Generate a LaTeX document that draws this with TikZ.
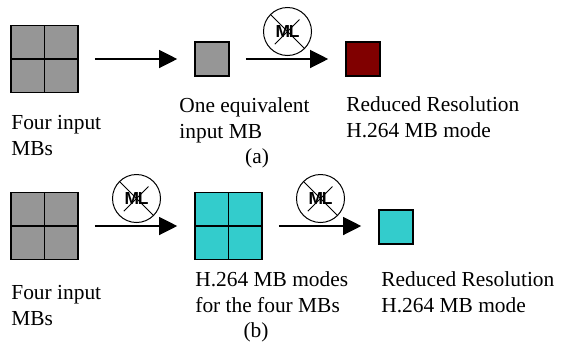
\documentclass[tikz,border=0pt]{standalone}
\usepackage{fontspec}
\setmainfont{Liberation Serif}
\newfontfamily\mlfont{Liberation Sans}
\usetikzlibrary{arrows.meta}
\definecolor{mbgray}{RGB}{150,150,150}
\definecolor{mbred}{RGB}{128,0,0}
\definecolor{mbcyan}{RGB}{51,204,204}

\begin{document}
\begin{tikzpicture}[x=0.5pt,y=-0.5pt,>={Triangle[length=9pt,width=9pt]},
 font=\fontsize{10.7}{13}\selectfont,
 quad/.style={draw,line width=0.8pt,minimum size=33.5pt,inner sep=0pt,
  path picture={\draw[-,line width=0.7pt]
   (path picture bounding box.north)--(path picture bounding box.south)
   (path picture bounding box.west)--(path picture bounding box.east);}},
 mb/.style={draw,line width=0.8pt,minimum size=17pt,inner sep=0pt},
 flow/.style={->,line width=0.6pt,shorten <=8pt,shorten >=8.5pt},
 ml/.style={circle,draw,line width=0.5pt,minimum size=24pt,inner sep=0pt,
  font=\mlfont\bfseries\fontsize{8.7}{8.7}\selectfont,
  path picture={\draw[-,line width=0.5pt]
   (path picture bounding box.north west)--(path picture bounding box.south east)
   (path picture bounding box.south west)--(path picture bounding box.north east);}},
 lbl/.style={align=left,anchor=base west,inner sep=0pt}]
\useasboundingbox (0,0) rectangle (561,354);
% (a): four MBs merged into one, then mode decision
\node[quad,fill=mbgray] (q1) at (44.5,59) {};
\node[mb,fill=mbgray] (m1) at (212,59) {};
\node[mb,fill=mbred] (r1) at (363,59) {};
\draw[flow] (q1.east) -- (m1.west);
\draw[flow] (m1.east) -- node[ml,above=1.5pt] (x1) {M\kern-0.6pt L} (r1.west);
\node[lbl] (t1) at (11,155) {Four input\\MBs};
\node[lbl] (t2) at (179,138) {One equivalent\\input MB};
\node[lbl] (t3) at (346,137) {Reduced Resolution\\H.264 MB mode};
\node[anchor=base,inner sep=0pt] (ta) at (257,163) {(a)};
% (b): mode decision per MB, then merged mode
\node[quad,fill=mbgray] (q2) at (44.5,226) {};
\node[quad,fill=mbcyan] (q3) at (228.5,226) {};
\node[mb,fill=mbcyan] (r2) at (396,227) {};
\draw[flow] (q2.east) -- node[ml,above=1.5pt] (x2) {M\kern-0.6pt L} (q3.west);
\draw[flow] (q3.east) -- node[ml,above=1.5pt] (x3) {M\kern-0.6pt L} (q3.east -| r2.west);
\node[lbl] (t4) at (11,325) {Four input\\MBs};
\node[lbl] (t5) at (195,312) {H.264 MB modes\\for the four MBs};
\node[lbl] (t6) at (381,312) {Reduced Resolution\\H.264 MB mode};
\node[anchor=base,inner sep=0pt] (tb) at (256,337) {(b)};
\end{tikzpicture}
\end{document}
